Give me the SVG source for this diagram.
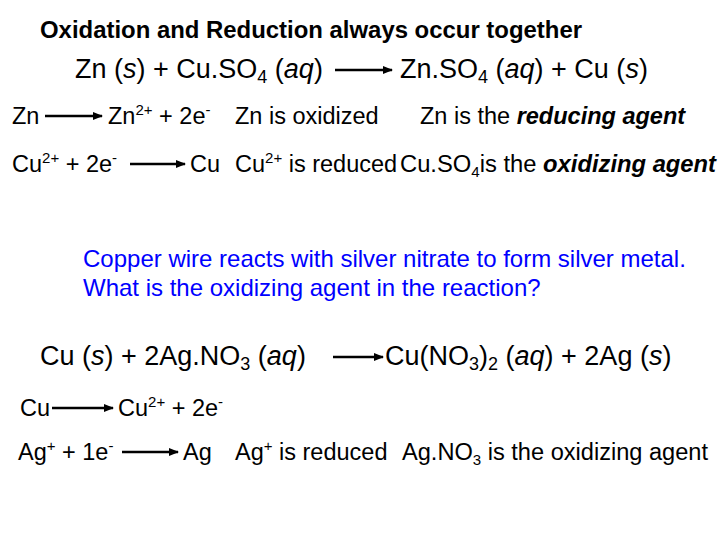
<svg xmlns="http://www.w3.org/2000/svg" width="720" height="540" viewBox="0 0 720 540">
<defs>
<marker id="ah" markerWidth="10" markerHeight="8" refX="9" refY="4" orient="auto" markerUnits="userSpaceOnUse"><path d="M0,0 L10,4 L0,8 Z" fill="#000"/></marker>
<style>
text{font-family:"Liberation Sans",Arial,sans-serif;fill:#000}
.t{font-size:23.5px;font-weight:bold}
.e{font-size:27px}
.r{font-size:23.5px}
.b{font-size:24px;fill:#0000ff}
.ln{stroke:#000;stroke-width:2.5;fill:none;marker-end:url(#ah)}
</style>
</defs>
<rect width="720" height="540" fill="#fff"/>
<g id="connectors">
<line class="ln" x1="335" y1="70" x2="392" y2="70"/>
<line class="ln" x1="45" y1="116" x2="102" y2="116"/>
<line class="ln" x1="130" y1="164" x2="185" y2="164"/>
<line class="ln" x1="333" y1="357" x2="383" y2="357"/>
<line class="ln" x1="52" y1="408" x2="113" y2="408"/>
<line class="ln" x1="122" y1="452" x2="178" y2="452"/>
</g>
<g id="title"><text class="t" x="40" y="38" textLength="542" lengthAdjust="spacingAndGlyphs">Oxidation and Reduction always occur together</text></g>
<g id="eq1">
<text class="e" x="75" y="78">Zn (<tspan font-style="italic">s</tspan>) + Cu.SO<tspan font-size="18" dy="5">4</tspan><tspan dy="-5"> (</tspan><tspan font-style="italic">aq</tspan>)</text>
<text class="e" x="400" y="78">Zn.SO<tspan font-size="18" dy="5">4</tspan><tspan dy="-5"> (</tspan><tspan font-style="italic">aq</tspan>) + Cu (<tspan font-style="italic">s</tspan>)</text>
</g>
<g id="row1">
<text class="r" x="12" y="124">Zn</text>
<text class="r" x="108" y="124">Zn<tspan font-size="15" dy="-9">2+</tspan><tspan dy="9"> + 2e</tspan><tspan font-size="15" dy="-9">-</tspan></text>
<text class="r" x="235" y="124">Zn is oxidized</text>
<text class="r" x="420" y="124">Zn is the <tspan font-weight="bold" font-style="italic">reducing agent</tspan></text>
</g>
<g id="row2">
<text class="r" x="12" y="172">Cu<tspan font-size="15" dy="-9">2+</tspan><tspan dy="9"> + 2e</tspan><tspan font-size="15" dy="-9">-</tspan></text>
<text class="r" x="190" y="172">Cu</text>
<text class="r" x="235" y="172">Cu<tspan font-size="15" dy="-9">2+</tspan><tspan dy="9"> is reduced</tspan></text>
<text class="r" x="400" y="172" textLength="316" lengthAdjust="spacingAndGlyphs">Cu.SO<tspan font-size="15" dy="5">4</tspan><tspan dy="-5">is the </tspan><tspan font-weight="bold" font-style="italic">oxidizing agent</tspan></text>
</g>
<g id="question">
<text class="b" x="83" y="267">Copper wire reacts with silver nitrate to form silver metal.</text>
<text class="b" x="83" y="296">What is the oxidizing agent in the reaction?</text>
</g>
<g id="eq2">
<text class="e" x="40" y="365">Cu (<tspan font-style="italic">s</tspan>) + 2Ag.NO<tspan font-size="18" dy="5">3</tspan><tspan dy="-5"> (</tspan><tspan font-style="italic">aq</tspan>)</text>
<text class="e" x="385" y="365">Cu(NO<tspan font-size="18" dy="5">3</tspan><tspan dy="-5">)</tspan><tspan font-size="18" dy="5">2</tspan><tspan dy="-5"> (</tspan><tspan font-style="italic">aq</tspan>) + 2Ag (<tspan font-style="italic">s</tspan>)</text>
</g>
<g id="row3">
<text class="r" x="20" y="416">Cu</text>
<text class="r" x="118" y="416">Cu<tspan font-size="15" dy="-9">2+</tspan><tspan dy="9"> + 2e</tspan><tspan font-size="15" dy="-9">-</tspan></text>
</g>
<g id="row4">
<text class="r" x="18" y="460">Ag<tspan font-size="15" dy="-9">+</tspan><tspan dy="9"> + 1e</tspan><tspan font-size="15" dy="-9">-</tspan></text>
<text class="r" x="183" y="460">Ag</text>
<text class="r" x="235" y="460">Ag<tspan font-size="15" dy="-9">+</tspan><tspan dy="9"> is reduced</tspan></text>
<text class="r" x="402" y="460" textLength="306" lengthAdjust="spacingAndGlyphs">Ag.NO<tspan font-size="15" dy="5">3</tspan><tspan dy="-5"> is the oxidizing agent</tspan></text>
</g>
</svg>
